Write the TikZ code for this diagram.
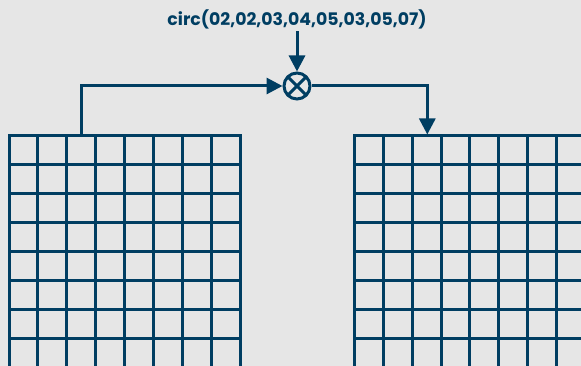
\documentclass[tikz,border=0pt]{standalone}
\usepackage{fontspec}
\setmainfont{Poppins}
\usetikzlibrary{arrows.meta,calc}
\definecolor{ink}{RGB}{0,62,98}
\definecolor{paper}{RGB}{230,230,230}
\begin{document}
\begin{tikzpicture}[x=1pt,y=-1pt,
  wire/.style={draw=ink,line width=3pt},
  tip/.style={-{Triangle[length=16pt,width=16pt]}},
  gridline/.style={draw=ink,line width=3pt,line cap=rect},
  label/.style={font=\fontsize{17.3}{20}\selectfont\bfseries,text=ink,inner sep=0pt},
  mult/.style={circle,draw=ink,line width=3pt,minimum size=26pt,inner sep=0pt,outer sep=1.5pt}]
\fill[paper] (0,0) rectangle (581,366);
\useasboundingbox (0,0) rectangle (581,366);
\clip (0,0) rectangle (581,366);

% input matrix (left)
\foreach \i in {0,...,8}
  \draw[gridline] (9+28.9*\i,136) -- (9+28.9*\i,380);
\foreach \j in {0,...,8}
  \draw[gridline] (9,136+28.9*\j) -- (240,136+28.9*\j);

% output matrix (right)
\foreach \i in {0,...,8}
  \draw[gridline] (354.3+28.9*\i,136) -- (354.3+28.9*\i,380);
\foreach \j in {0,...,8}
  \draw[gridline] (354.3,136+28.9*\j) -- (600,136+28.9*\j);

% mixing step
\node[label] (lbl) at (297,19.5) {circ(02,02,03,04,05,03,05,07)};
\node[mult] (mul) at (297,86) {};
\draw[ink,line width=3pt] ($(mul)+(45:13)$) -- ($(mul)+(225:13)$);
\draw[ink,line width=3pt] ($(mul)+(135:13)$) -- ($(mul)+(315:13)$);

\coordinate (src) at (81.5,136);
\coordinate (dst) at (427.3,134.5);

\draw[wire,tip] ($(lbl.south)+(0,2)$) -- (mul.north);
\draw[wire,tip] (src) |- (mul.west);
\draw[wire,tip] (mul.east) -| (dst);
\end{tikzpicture}
\end{document}
